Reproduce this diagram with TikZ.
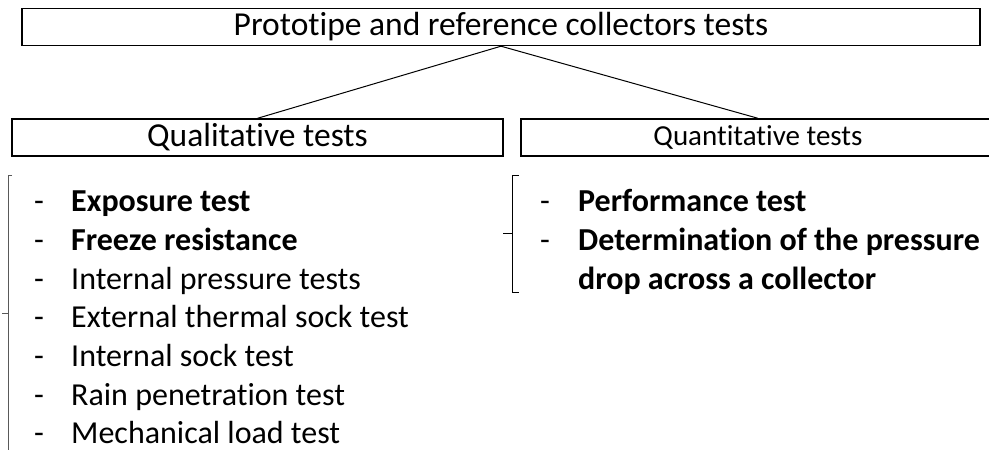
\documentclass[tikz,border=0pt]{standalone}
\usepackage{fontspec}
\setmainfont{Carlito}[Ligatures=NoCommon]
\begin{document}
\begin{tikzpicture}[x=1pt,y=-1pt,
  box/.style={draw,line width=1.4pt,inner sep=0pt,minimum height=37pt,font=\fontsize{33.5}{40}\selectfont},
  conn/.style={line width=1pt},
  item/.style={anchor=base west,inner sep=0pt,font=\fontsize{32}{38}\selectfont},
  bolditem/.style={item,font=\fontsize{32}{38}\selectfont\bfseries},
  dashmark/.style={anchor=base west,inner sep=0pt,font=\fontsize{32}{38}\selectfont},
  bracepath/.style={line width=1pt}]
\clip (0,0) rectangle (989,450);
\node[box,minimum width=958pt] (top) at (501,27) {Prototipe and reference collectors tests};
\node[box,minimum width=491pt] (qual) at (257.5,137.5) {Qualitative tests};
\node[box,minimum width=474pt,font=\fontsize{29}{34}\selectfont] (quant) at (758,137.5) {Quantitative tests};
\draw[conn] (top.south) -- (qual.north);
\draw[conn] (top.south) -- (quant.north);
% left brace
\draw[bracepath,gray!70!black] (12,175) -- (8,175) -- (8,455);
\draw[bracepath,gray!70!black] (8,313) -- (2,313);
% right brace
\draw[bracepath] (519,175) -- (512,175) -- (512,292) -- (519,292);
\draw[bracepath] (512,233) -- (503,233);
% left list
\foreach \y/\n in {211.5/a,250.3/b,289.1/c,327.9/d,366.7/e,405.5/f,443.5/g}
  \node[dashmark] (d\n) at (34,\y) {-};
\node[bolditem] (la) at (71,211.5) {Exposure test};
\node[bolditem] (lb) at (71,250.3) {Freeze resistance};
\node[item] (lc) at (71,289.1) {Internal pressure tests};
\node[item] (ld) at (71,327.9) {External thermal sock test};
\node[item] (le) at (71,366.7) {Internal sock test};
\node[item] (lf) at (71,405.5) {Rain penetration test};
\node[item] (lg) at (71,443.5) {Mechanical load test};
% right list
\node[dashmark] (ra) at (540,211.5) {-};
\node[dashmark] (rb) at (540,250.3) {-};
\node[bolditem] (r1) at (578,211.5) {Performance test};
\node[bolditem] (r2) at (578,250.3) {Determination of the pressure};
\node[bolditem] (r3) at (578,289.1) {drop across a collector};
\end{tikzpicture}
\end{document}
